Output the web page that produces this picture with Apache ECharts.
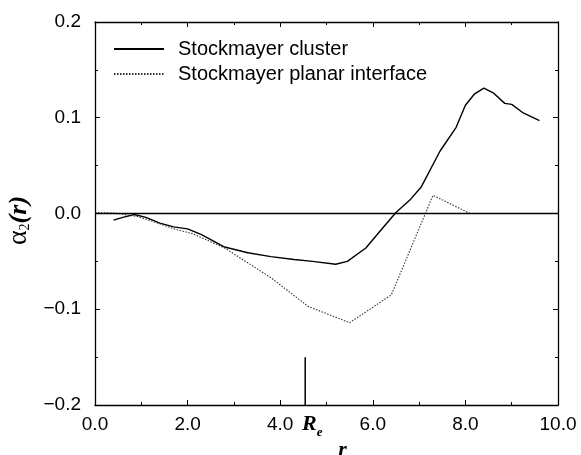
<!DOCTYPE html>
<html><head><meta charset="utf-8">
<script src="https://cdn.jsdelivr.net/npm/echarts@6/dist/echarts.min.js"></script>
<style>html,body{margin:0;padding:0;background:#fff}#c{width:581px;height:455px}</style>
</head><body><div id="c"></div>
<script>
// Stockmayer cluster (solid)
const clusterR = [0.4, 0.6, 0.85, 1.1, 1.4, 1.7, 2.0, 2.3, 2.8, 3.3, 3.8, 4.3, 4.7, 5.2, 5.45, 5.85, 6.2, 6.5, 6.8, 7.05, 7.45, 7.8, 8.0, 8.2, 8.4, 8.6, 8.85, 9.0, 9.25, 9.6];
const clusterA = [-0.007, -0.004, -0.001, -0.004, -0.010, -0.014, -0.016, -0.022, -0.035, -0.041, -0.045, -0.048, -0.050, -0.053, -0.050, -0.036, -0.016, 0.001, 0.014, 0.028, 0.065, 0.090, 0.113, 0.125, 0.131, 0.126, 0.115, 0.114, 0.105, 0.097];
// Stockmayer planar interface (dotted)
const planarR = [0.0, 0.4, 0.9, 1.3, 1.7, 2.1, 2.8, 3.8, 4.6, 5.5, 6.4, 7.3, 8.1];
const planarA = [0.001, 0.0005, -0.003, -0.009, -0.016, -0.021, -0.036, -0.067, -0.097, -0.114, -0.085, 0.019, 0.0];
// R_e marker
const reValue = 4.54;
const reSpan = [-0.2, -0.15];
const seriesNames = ['Stockmayer cluster', 'Stockmayer planar interface'];

const zip = (xs, ys) => xs.map((x, i) => [x, ys[i]]);
const FONT = '"Liberation Sans", Arial, sans-serif';
const SERIF = '"Liberation Serif", "DejaVu Serif", serif';
const fmtX = v => v.toFixed(1);
const fmtY = v => (v < -1e-9 ? '\u2212' : '') + Math.abs(v).toFixed(1);

const axisLine = { show: true, onZero: false, lineStyle: { color: '#000', width: 1.3 } };
const tick = { show: true, inside: true, length: 5, lineStyle: { color: '#000', width: 1 } };
const minor = { show: true, splitNumber: 2, length: 3, lineStyle: { color: '#000', width: 1 } };

const chart = echarts.init(document.getElementById('c'), null, { renderer: 'canvas' });
chart.setOption({
  animation: false,
  backgroundColor: '#fff',
  grid: { left: 95, right: 23, top: 22, bottom: 50, outerBoundsMode: 'none', containLabel: false },
  legend: {
    data: seriesNames,
    orient: 'vertical',
    left: 113, top: 39, padding: 0,
    icon: 'inherit',
    itemWidth: 50, itemHeight: 20, itemGap: 5,
    itemStyle: { opacity: 0, borderWidth: 0 },
    textStyle: { fontFamily: FONT, fontSize: 20, color: '#000', lineHeight: 20, padding: [0, 0, 0, 9] },
    selectedMode: false
  },
  xAxis: [
    { type: 'value', min: 0, max: 10, interval: 2, position: 'bottom',
      axisLine, axisTick: tick, minorTick: minor, splitLine: { show: false },
      axisLabel: { formatter: fmtX, fontFamily: FONT, fontSize: 19, color: '#000', margin: 10 },
      name: 'r', nameLocation: 'middle', nameGap: 33,
      nameTextStyle: { fontFamily: SERIF, fontStyle: 'italic', fontWeight: 'bold', fontSize: 22, color: '#000', padding: [0, 0, 0, 32] } },
    { type: 'value', min: 0, max: 10, interval: 2, position: 'top',
      axisLine, axisTick: tick, minorTick: minor, splitLine: { show: false }, axisLabel: { show: false } }
  ],
  yAxis: [
    { type: 'value', min: -0.2, max: 0.2, interval: 0.1, position: 'left',
      axisLine, axisTick: tick, minorTick: minor, splitLine: { show: false },
      axisLabel: { formatter: fmtY, fontFamily: FONT, fontSize: 19, color: '#000', margin: 14 },
      name: '{a|\u03b1}{s|2}{b|(r)}', nameLocation: 'middle', nameGap: 62, nameRotate: 90,
      nameTextStyle: { color: '#000', padding: [0, 14, 0, 0], rich: {
        a: { fontFamily: SERIF, fontSize: 28, color: '#000', verticalAlign: 'bottom', lineHeight: 28 },
        s: { fontFamily: SERIF, fontSize: 14, color: '#000', verticalAlign: 'bottom', lineHeight: 20 },
        b: { fontFamily: SERIF, fontStyle: 'italic', fontWeight: 'bold', fontSize: 26, color: '#000', verticalAlign: 'bottom', lineHeight: 28 }
      } } },
    { type: 'value', min: -0.2, max: 0.2, interval: 0.1, position: 'right',
      axisLine, axisTick: tick, minorTick: minor, splitLine: { show: false }, axisLabel: { show: false } }
  ],
  series: [
    { name: seriesNames[0], type: 'line', data: zip(clusterR, clusterA), symbol: 'none',
      lineStyle: { color: '#000', width: 1.4 }, itemStyle: { color: '#000' },
      markLine: { silent: true, symbol: 'none', label: { show: false },
        lineStyle: { color: '#000', width: 1.3, type: 'solid' }, data: [{ yAxis: 0 }] } },
    { name: seriesNames[1], type: 'line', data: zip(planarR, planarA), symbol: 'none',
      lineStyle: { color: '#333', width: 1.1, type: [1.5, 1.5] }, itemStyle: { color: '#333' } },
    { name: 'Re', type: 'line', symbol: 'circle', symbolSize: 0.01, showSymbol: true, clip: false,
      lineStyle: { color: '#000', width: 1.5 }, itemStyle: { color: '#000' },
      data: [
        { value: [reValue, reSpan[0]], label: { show: true, position: 'bottom', distance: 8, offset: [7, 0],
          formatter: '{R|R}{e|e}',
          rich: {
            R: { fontFamily: SERIF, fontStyle: 'italic', fontWeight: 'bold', fontSize: 22, color: '#000', verticalAlign: 'top', lineHeight: 20 },
            e: { fontFamily: SERIF, fontStyle: 'italic', fontWeight: 'bold', fontSize: 13, color: '#000', verticalAlign: 'bottom', lineHeight: 26 }
          } } },
        [reValue, reSpan[1]]
      ] }
  ]
});
</script></body></html>
